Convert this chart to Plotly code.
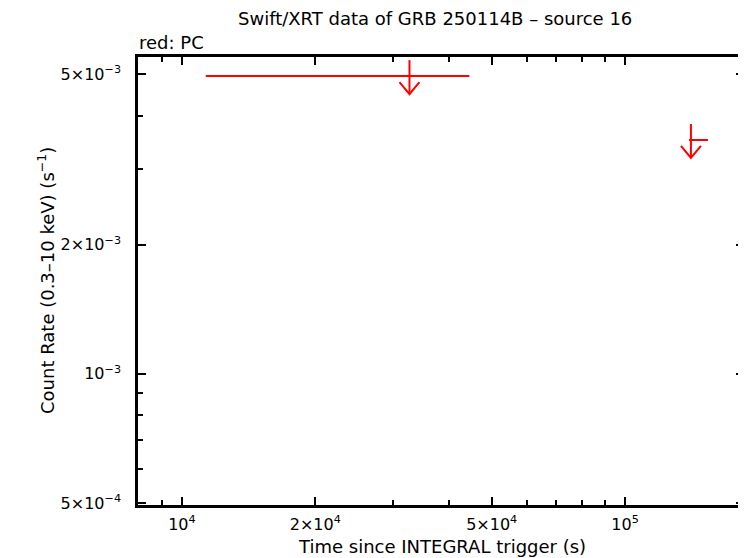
import numpy as np
import plotly.graph_objects as go

# Swift/XRT PC-mode upper limits (count rate in s^-1, time in s since trigger)
t_mid = [32620, 140800]
t_lo = [11320, 139400]
t_hi = [44530, 153800]
rate_ul = [4.946e-3, 3.51e-3]

xtick_vals = [1e4, 2e4, 5e4, 1e5]
xtick_text = ["10<sup>4</sup>", "2×10<sup>4</sup>", "5×10<sup>4</sup>", "10<sup>5</sup>"]
xminor = [8e3, 9e3, 3e4, 4e4, 6e4, 7e4, 8e4, 9e4, 2e5]
ytick_vals = [5e-4, 1e-3, 2e-3, 5e-3]
ytick_text = ["5×10<sup>−4</sup>", "10<sup>−3</sup>", "2×10<sup>−3</sup>", "5×10<sup>−3</sup>"]
yminor = [6e-4, 7e-4, 8e-4, 9e-4, 3e-3, 4e-3]

RED = "#ff0000"
FONT = "DejaVu Sans, sans-serif"

# the page body has an 8px margin, so the figure is drawn 8px in from the corner
OFF = 8
W, H = 746 - OFF, 558 - OFF
# plot box in figure pixels
L, R, T, B = 138 - OFF, 744 - OFF, 57 - OFF, 505 - OFF
XDEC = 1 / 444   # decades per pixel, x
YDEC = 1 / 429   # decades per pixel, y

# horizontal time bars
bx, by = [], []
for lo, hi, r in zip(t_lo, t_hi, rate_ul):
    bx += [lo, hi, None]
    by += [r, r, None]

# downward arrows marking upper limits
ax_, ay_ = [], []
for t, r in zip(t_mid, rate_ul):
    top = r * 10 ** (16 * YDEC)
    bot = r / 10 ** (18 * YDEC)
    arm_y = bot * 10 ** (12 * YDEC)
    ax_ += [t, t, None, t * 10 ** (-10 * XDEC), t, t * 10 ** (10 * XDEC), None]
    ay_ += [top, bot, None, arm_y, bot, arm_y, None]

fig = go.Figure()
fig.add_trace(go.Scatter(x=bx, y=by, mode="lines", line=dict(color=RED, width=2),
                         hoverinfo="skip", showlegend=False))
fig.add_trace(go.Scatter(x=ax_, y=ay_, mode="lines", line=dict(color=RED, width=2),
                         hoverinfo="skip", showlegend=False))

axis_common = dict(
    type="log", showgrid=False, zeroline=False, automargin=False,
    showline=True, linecolor="black", linewidth=2.5, mirror="allticks",
    ticks="inside", ticklen=8, tickwidth=2, tickcolor="black",
    tickmode="array", tickfont=dict(size=16, color="black", family=FONT),
)

fig.update_xaxes(
    **axis_common,
    range=[np.log10(7960), np.log10(185500)],
    tickvals=xtick_vals, ticktext=xtick_text, ticklabelstandoff=3,
    minor=dict(tickmode="array", tickvals=xminor, ticks="inside", ticklen=5,
               tickwidth=2, tickcolor="black"),
)
fig.update_yaxes(
    **axis_common,
    range=[np.log10(4.946e-4), np.log10(5.48e-3)],
    tickvals=ytick_vals, ticktext=ytick_text, ticklabelstandoff=11,
    minor=dict(tickmode="array", tickvals=yminor, ticks="inside", ticklen=5,
               tickwidth=2, tickcolor="black"),
)

pw, ph = R - L, B - T


def px(x):
    # screenshot x -> paper fraction
    return (x - OFF - L) / pw


def py(y):
    # screenshot y -> paper fraction
    return (B - (y - OFF)) / ph


txt = dict(size=18, color="black", family=FONT)
fig.update_layout(
    width=W, height=H,
    margin=dict(l=L, r=W - R, t=T, b=H - B),
    paper_bgcolor="white", plot_bgcolor="white",
    font=dict(family=FONT, color="black"),
    annotations=[
        dict(text="Swift/XRT data of GRB 250114B – source 16", x=px(435), y=py(18),
             xanchor="center", yanchor="middle", font=txt),
        dict(text="red: PC", x=px(137), y=py(42), xanchor="left", yanchor="middle", font=txt),
        dict(text="Time since INTEGRAL trigger (s)", x=px(442), y=py(546),
             xanchor="center", yanchor="middle", font=txt),
        dict(text="Count Rate (0.3–10 keV) (s<sup>−1</sup>)", x=px(46), y=py(281),
             xanchor="center", yanchor="middle", textangle=-90, font=txt),
    ],
)
for a in fig.layout.annotations:
    a.update(xref="paper", yref="paper", showarrow=False)

fig.write_html("out.html")
